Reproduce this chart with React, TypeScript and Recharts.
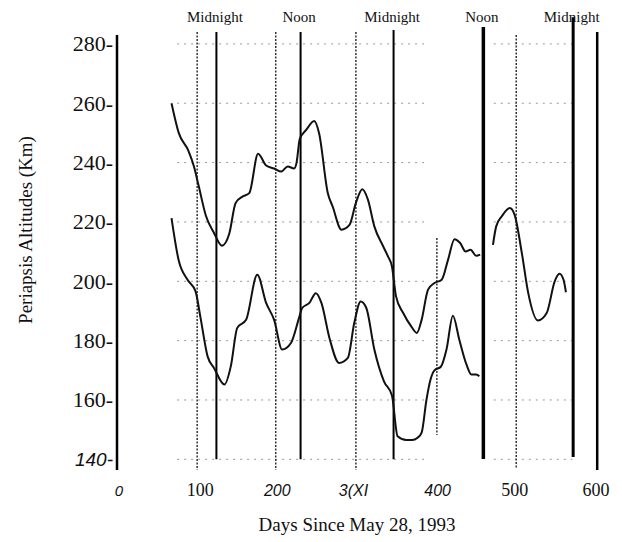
import { LineChart, Line, XAxis, YAxis, ReferenceLine } from 'recharts'

// periapsis altitude (km) vs days since May 28, 1993
const upperDays = [
  68, 77, 89, 96, 102, 111, 121, 131, 140, 148, 157, 165, 176, 186, 196, 205, 213, 221, 224, 228,
  236, 246, 252, 263, 269, 280, 290, 298, 306, 313, 321, 332, 338, 343, 348, 357, 367, 374, 380,
  388, 396, 405, 413, 421, 428, 435, 441, 448, 453, 460,
  469, 473, 480, 490, 496, 505, 513, 525, 536, 546, 552, 557, 560,
]
const upperKm = [
  260, 250, 244, 238.7, 232, 222, 216.3, 212, 216, 226.4, 228.6, 229.7, 243, 239, 238, 237, 238.7, 238, 240, 248,
  251, 254, 250, 229.7, 225.2, 217.4, 219, 226.4, 231, 227.5, 218.5, 211.8, 208.4, 205, 195, 189.3, 184.8, 182.6, 187,
  197.2, 199.4, 200.5, 207.3, 214.2, 212.9, 210, 210.6, 208.6, 209, null,
  212.3, 218.5, 221.9, 224.7, 222.4, 209.5, 196, 186.8, 189.3, 200, 202.5, 200.5, 196.3,
]
const lowerDays = [
  68, 77, 88, 98, 104, 113, 121, 134, 142, 150, 161, 175, 186, 196, 206, 217, 227, 231, 240, 248,
  255, 265, 277, 288, 296, 304, 311, 321, 333, 343, 350, 361, 368, 375, 380, 386, 391, 396, 404,
  411, 419, 427, 436, 442, 448, 452,
]
const lowerKm = [
  221.3, 207, 200.5, 196.6, 188, 174.7, 170.8, 165.2, 171.4, 184.3, 187, 202.2, 192.7, 187, 177, 179.2, 187.6, 191, 192.7, 196,
  192.7, 180.9, 172.5, 174.2, 186, 193.2, 191, 177, 166.3, 161.5, 147.8, 146.5, 146.5, 147.3, 149, 160, 166.8, 170, 171.2,
  177, 188.4, 180.3, 171.9, 168.6, 168.6, 168,
]

const xTicks = [0, 100, 200, 300, 400, 500, 600]
const xTickLabels = ['0', '100', '200', '3(XI', '400', '500', '600']
const yTicks = [140, 160, 180, 200, 220, 240, 260, 280]

// local time markers
const markerDays = [124, 229, 345, 457, 569]
const markerLabels = ['Midnight', 'Noon', 'Midnight', 'Noon', 'Midnight']
const dottedDays = [100, 198, 298, 399, 498]

const upper = upperDays.map((day, i) => ({ day, km: upperKm[i] }))
const lower = lowerDays.map((day, i) => ({ day, km: lowerKm[i] }))

const W = 622
const H = 542
const PLOT_L = 117
const PLOT_R = 598
const dayToX = (d: number) => PLOT_L + (d * (PLOT_R - PLOT_L)) / 600

const serif = "'Liberation Serif', 'Times New Roman', serif"
const sans = "'Liberation Sans', Arial, sans-serif"

// scan artefacts: each tick label is in a slightly different face
const xTickStyle = [
  { font: sans, size: 15, italic: true, dx: 2 },
  { font: serif, size: 18, italic: false, dx: 3 },
  { font: sans, size: 16, italic: true, dx: 0 },
  { font: sans, size: 16, italic: true, dx: -4 },
  { font: sans, size: 16, italic: true, dx: 0 },
  { font: serif, size: 18, italic: false, dx: -3 },
  { font: serif, size: 18, italic: false, dx: -2 },
]

// extents (km) and widths of the solid marker lines
const markerStyle = [
  { top: 284, bottom: 140, w: 2 },
  { top: 284, bottom: 140, w: 2 },
  { top: 284.7, bottom: 140, w: 2 },
  { top: 285.7, bottom: 140.1, w: 3.5 },
  { top: 289, bottom: 140.8, w: 3 },
]
const dottedStyle = [
  { top: 284, bottom: 136.4 },
  { top: 284, bottom: 136.4 },
  { top: 284, bottom: 136.4 },
  { top: 214.6, bottom: 148.2 },
  { top: 283, bottom: 137 },
]
const gridSpans = [[75, 383], [470, 568]]

function XTick({ x, payload }: any) {
  const i = xTicks.indexOf(payload.value)
  const s = xTickStyle[i]
  return (
    <text
      x={x + s.dx}
      y={496}
      textAnchor="middle"
      fontFamily={s.font}
      fontSize={s.size}
      fontStyle={s.italic ? 'italic' : 'normal'}
      fill="#111"
    >
      {xTickLabels[i]}
    </text>
  )
}

function YTick({ y, payload }: any) {
  const v = payload.value
  const low = v === 140
  return (
    <text
      x={113}
      y={y}
      dy={low ? 7 : 7.5}
      textAnchor="end"
      fontFamily={low ? sans : serif}
      fontSize={low ? 19 : 22}
      fontStyle={low ? 'italic' : 'normal'}
      fill="#111"
    >
      {v}-
    </text>
  )
}

export default function App() {
  return (
    <div style={{ position: 'absolute', left: 0, top: 0, width: W, height: H, background: '#fff' }}>
      <svg width={W} height={H} style={{ position: 'absolute', left: 0, top: 0 }}>
        {markerDays.map((d, i) => (
          <text
            key={i}
            x={dayToX(d) - 1.5}
            y={22}
            textAnchor="middle"
            fontFamily={serif}
            fontSize={15}
            fill="#111"
          >
            {markerLabels[i]}
          </text>
        ))}
        <text
          x={0}
          y={0}
          transform="translate(32 230) rotate(-90)"
          textAnchor="middle"
          fontFamily={serif}
          fontSize={19}
          fill="#111"
        >
          Periapsis Altitudes (Km)
        </text>
        <text x={357} y={531} textAnchor="middle" fontFamily={serif} fontSize={19} fill="#111">
          Days Since May 28, 1993
        </text>
      </svg>
      <div style={{ position: 'absolute', left: 0, top: 0 }}>
        <LineChart width={W} height={H} margin={{ top: 35, right: W - PLOT_R, left: PLOT_L - 60, bottom: 42 }}>
          <XAxis
            dataKey="day"
            type="number"
            domain={[0, 600]}
            ticks={xTicks}
            allowDataOverflow
            axisLine={false}
            tickLine={false}
            height={30}
            tick={<XTick />}
          />
          <YAxis
            type="number"
            domain={[136.4, 283]}
            ticks={yTicks}
            allowDataOverflow
            width={60}
            axisLine={{ stroke: '#000', strokeWidth: 2.5 }}
            tickLine={false}
            tick={<YTick />}
          />
          {yTicks.flatMap((v) =>
            gridSpans.map(([a, b], j) => (
              <ReferenceLine
                key={`g${v}-${j}`}
                segment={[{ x: a, y: v }, { x: b, y: v }]}
                stroke="#999"
                strokeWidth={1}
                strokeDasharray="2 5"
                ifOverflow="visible"
              />
            ))
          )}
          {dottedDays.map((d, i) => (
            <ReferenceLine
              key={`d${i}`}
              segment={[{ x: d, y: dottedStyle[i].top }, { x: d, y: dottedStyle[i].bottom }]}
              stroke="#333"
              strokeWidth={1.5}
              strokeDasharray="2 1.5"
              ifOverflow="visible"
            />
          ))}
          {markerDays.map((d, i) => (
            <ReferenceLine
              key={`m${i}`}
              segment={[{ x: d, y: markerStyle[i].top }, { x: d, y: markerStyle[i].bottom }]}
              stroke="#000"
              strokeWidth={markerStyle[i].w}
              ifOverflow="visible"
            />
          ))}
          <ReferenceLine
            segment={[{ x: 599, y: 284 }, { x: 599, y: 136.4 }]}
            stroke="#000"
            strokeWidth={2.5}
            ifOverflow="visible"
          />
          <Line
            data={upper}
            dataKey="km"
            type="monotone"
            stroke="#111"
            strokeWidth={2}
            dot={false}
            isAnimationActive={false}
          />
          <Line
            data={lower}
            dataKey="km"
            type="monotone"
            stroke="#111"
            strokeWidth={2}
            dot={false}
            isAnimationActive={false}
          />
        </LineChart>
      </div>
    </div>
  )
}
